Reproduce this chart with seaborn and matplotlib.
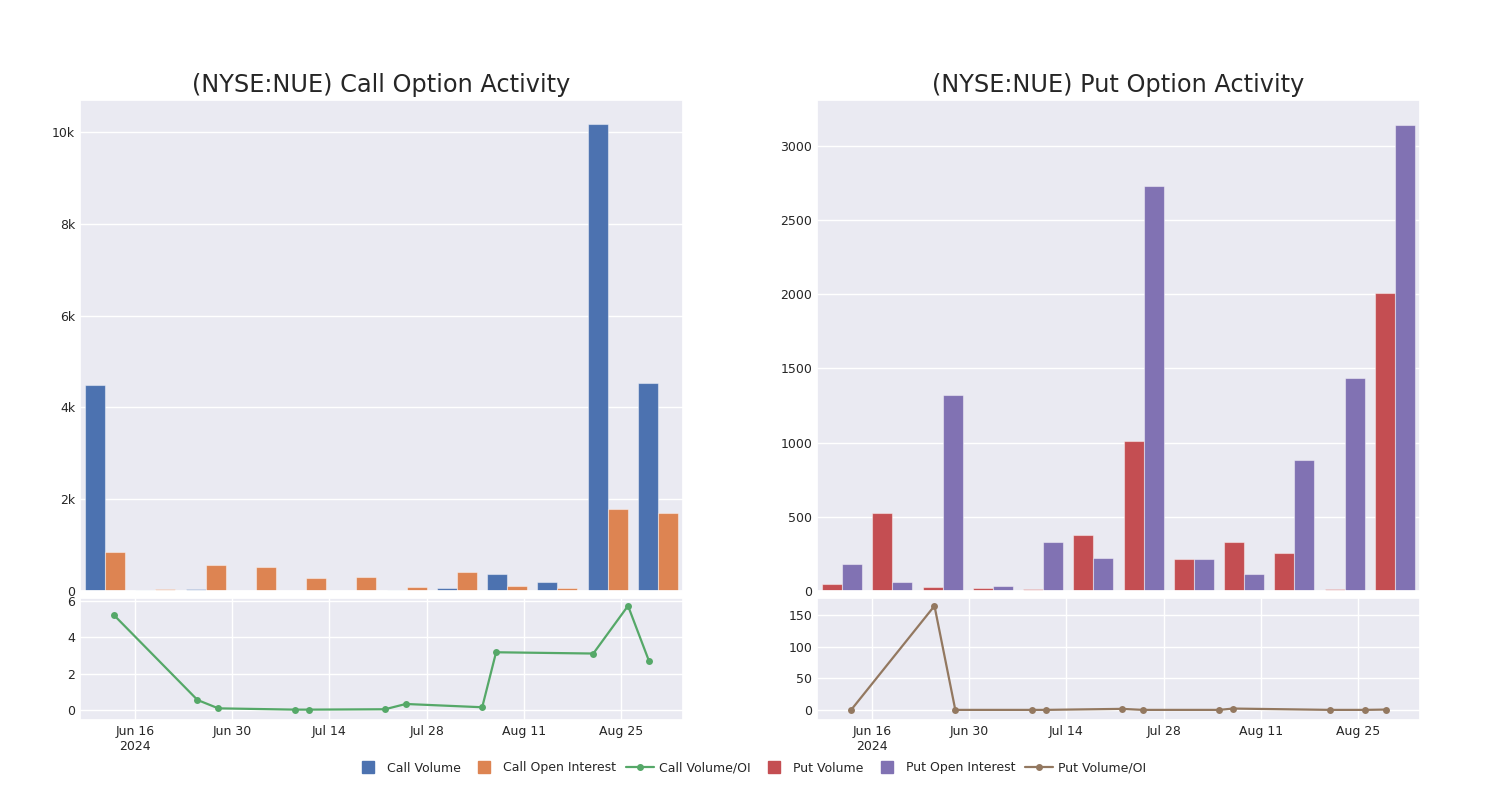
import matplotlib
matplotlib.use("Agg")
import matplotlib.pyplot as plt
from matplotlib.lines import Line2D
import matplotlib.ticker as mticker
import numpy as np
import pandas as pd
import seaborn as sns

# ---------------- data ----------------
dates = ["2024-06-13", "2024-06-25", "2024-06-28", "2024-07-09", "2024-07-11", "2024-07-22",
         "2024-07-25", "2024-08-05", "2024-08-07", "2024-08-21", "2024-08-26", "2024-08-29"]

call_volume = [4480, 27, 50, 10, 5, 8, 25, 65, 370, 203, 10170, 4540]
call_oi = [860, 50, 566, 516, 290, 298, 87, 414, 116, 65, 1787, 1693]
call_ratio = [5.2, 0.55, 0.09, 0.02, 0.02, 0.04, 0.33, 0.15, 3.17, 3.1, 5.72, 2.71]

put_volume = [49, 527, 27, 22, 16, 377, 1014, 218, 328, 256, 16, 2006]
put_oi = [184, 58, 1319, 34, 328, 222, 2733, 218, 117, 880, 1438, 3139]
put_ratio = [0.0, 164.5, 0.0, 0.0, 0.0, 1.6, 0.0, 0.0, 2.1, 0.0, 0.0, 0.5]

tick_dates = ["2024-06-16", "2024-06-30", "2024-07-14", "2024-07-28", "2024-08-11", "2024-08-25"]
tick_labels = ["Jun 16\n2024", "Jun 30", "Jul 14", "Jul 28", "Aug 11", "Aug 25"]

titles = ["(NYSE:NUE) Call Option Activity", "(NYSE:NUE) Put Option Activity"]

# ---------------- style ----------------
sns.set_theme(style="darkgrid")
plt.rcParams["font.family"] = ["DejaVu Sans"]

deep = sns.color_palette("deep")
c_blue, c_orange, c_green, c_red, c_purple, c_brown = deep[0], deep[1], deep[2], deep[3], deep[4], deep[5]

fig = plt.figure(figsize=(15, 8), dpi=100)

W = 603 / 1500
top_h = 491 / 800
top_y = (800 - 591) / 800
bot_h = 122 / 800
bot_y = (800 - 720) / 800
lefts = [80 / 1500, 817 / 1500]

xmin = pd.Timestamp("2024-06-08 02:00")
xmax = pd.Timestamp("2024-09-02 22:00")

panels = [
    (call_volume, call_oi, call_ratio, "Call Volume", "Call Open Interest", "Call Volume/OI",
     c_blue, c_orange, c_green, (0, 10700), (-0.55, 6.15), [0, 2, 4, 6]),
    (put_volume, put_oi, put_ratio, "Put Volume", "Put Open Interest", "Put Volume/OI",
     c_red, c_purple, c_brown, (0, 3310), (-16, 177), [0, 50, 100, 150]),
]

handles = []
for i, (vol, oi, ratio, n_vol, n_oi, n_ratio, cv, co, cr, ylim_top, ylim_bot, yt_bot) in enumerate(panels):
    ax_top = fig.add_axes([lefts[i], top_y, W, top_h])
    ax_bot = fig.add_axes([lefts[i], bot_y, W, bot_h])

    df = pd.DataFrame({
        "date": dates * 2,
        "value": list(vol) + list(oi),
        "kind": [n_vol] * len(dates) + [n_oi] * len(dates),
    })
    sns.barplot(data=df, x="date", y="value", hue="kind", hue_order=[n_vol, n_oi],
                palette=[cv, co], saturation=1, ax=ax_top, legend=False,
                edgecolor=(1, 1, 1, 0.45), linewidth=0.8)
    ax_top.set_xlim(-0.5, len(dates) - 0.5)
    ax_top.set_ylim(*ylim_top)
    ax_top.set_xticks(range(0, len(dates), 2))
    ax_top.set_xticklabels([])
    ax_top.set_xlabel("")
    ax_top.set_ylabel("")
    ax_top.tick_params(axis="both", length=0, labelsize=9)
    if i == 0:
        ax_top.yaxis.set_major_locator(mticker.MultipleLocator(2000))
        ax_top.yaxis.set_major_formatter(mticker.FuncFormatter(
            lambda v, p: "0" if v == 0 else f"{int(v/1000)}k"))
    else:
        ax_top.yaxis.set_major_locator(mticker.MultipleLocator(500))
    ax_top.set_title(titles[i], fontsize=17.3, pad=6)

    ldf = pd.DataFrame({"date": pd.to_datetime(dates), "ratio": ratio})
    sns.lineplot(data=ldf, x="date", y="ratio", color=cr, marker="o", markersize=5,
                 markeredgewidth=0, linewidth=1.6, ax=ax_bot)
    ax_bot.set_xlim(xmin, xmax)
    ax_bot.set_ylim(*ylim_bot)
    ax_bot.set_yticks(yt_bot)
    ax_bot.set_xticks(pd.to_datetime(tick_dates))
    ax_bot.set_xticklabels(tick_labels)
    ax_bot.set_xlabel("")
    ax_bot.set_ylabel("")
    ax_bot.tick_params(axis="both", length=0, labelsize=9)

    handles += [
        Line2D([], [], marker="s", linestyle="none", color=cv, markersize=8, label=n_vol),
        Line2D([], [], marker="s", linestyle="none", color=co, markersize=8, label=n_oi),
        Line2D([], [], marker="o", color=cr, markersize=4, linewidth=1.6, label=n_ratio),
    ]

fig.legend(handles=handles, loc="center", bbox_to_anchor=(0.5, 0.04), ncol=6,
           frameon=False, fontsize=9, handlelength=2.2, columnspacing=0.8, handletextpad=0.4)

fig.savefig("out.png", dpi=100)
